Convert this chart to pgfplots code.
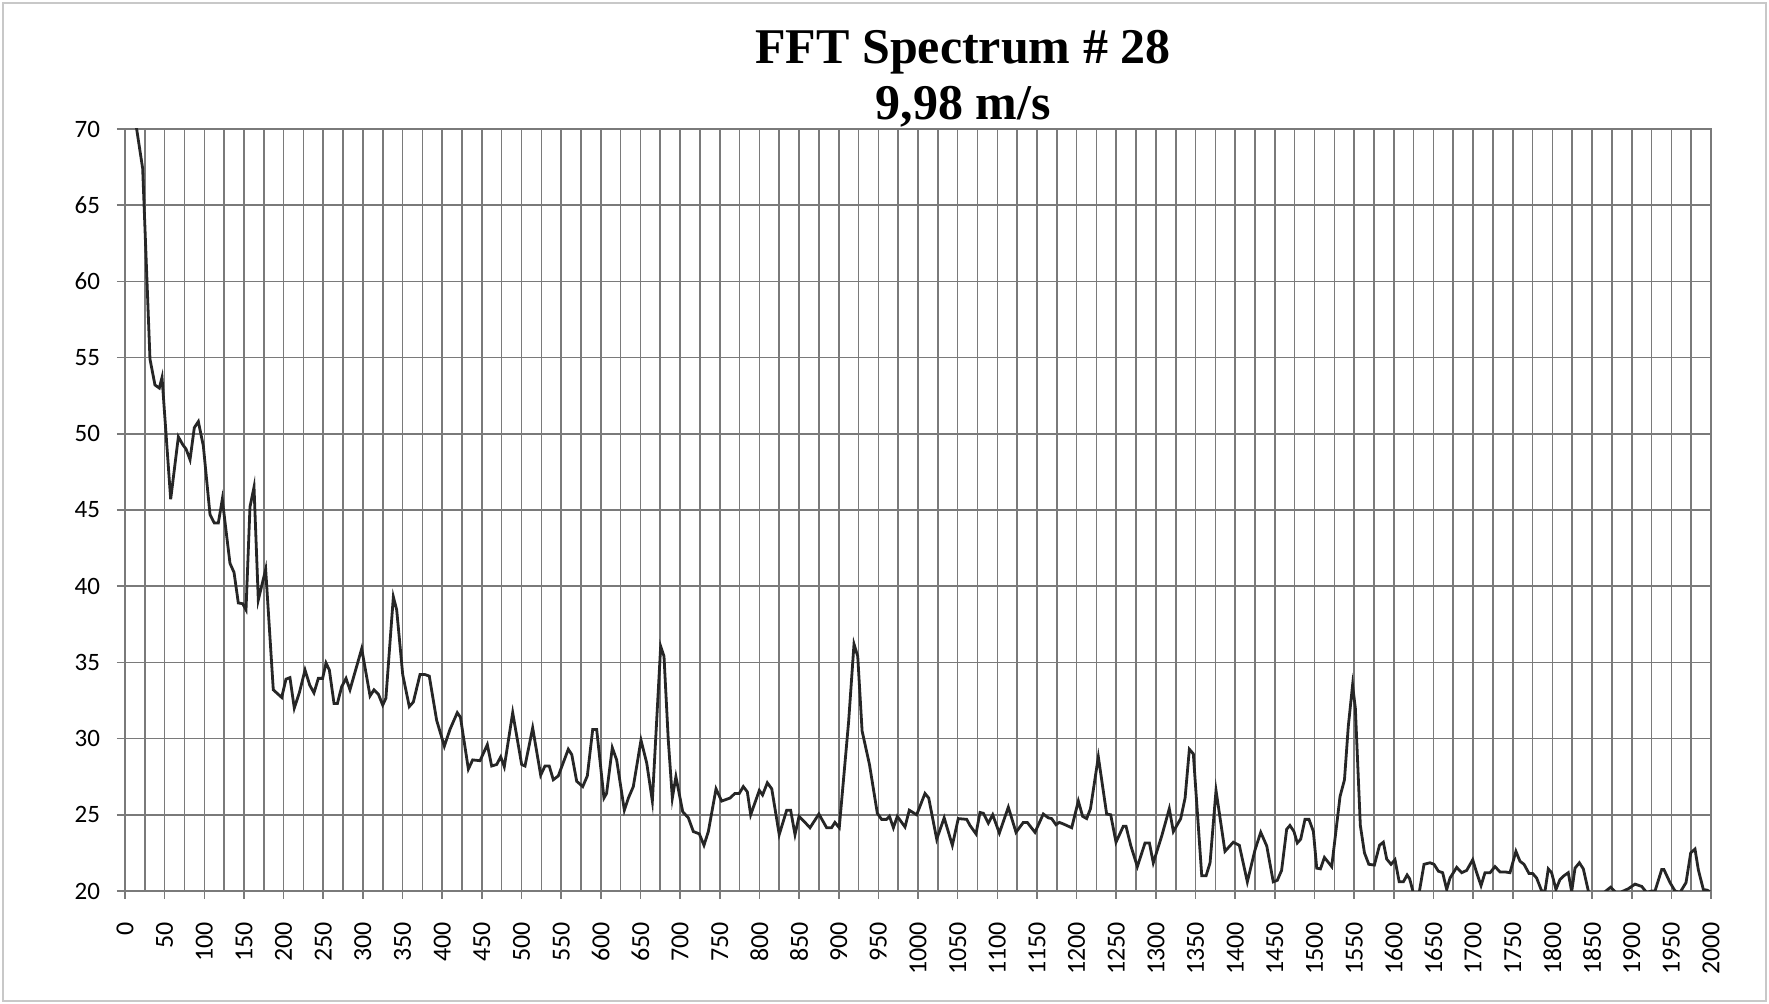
\documentclass[border=0pt]{standalone}
\usepackage{pgfplots}
\pgfplotsset{compat=1.18}
\usepackage{fontspec}
\setmainfont{Carlito}
\newfontfamily\titlefont{Liberation Serif}
\definecolor{gridgray}{HTML}{7A7A7A}
\definecolor{framegray}{HTML}{C8C8C8}
\begin{document}
\begin{tikzpicture}[x=0.5pt,y=0.5pt]
\useasboundingbox (0,0) rectangle (1769,1004);
\fill[white] (0,0) rectangle (1769,1004);
\draw[framegray, line width=1pt] (3,3) rectangle (1766,1001);
\node[anchor=base, font=\titlefont\bfseries\fontsize{25}{30}\selectfont] at (963,940) {FFT Spectrum \# 28};
\node[anchor=base, font=\titlefont\bfseries\fontsize{25}{30}\selectfont] at (963,884) {9,98 m/s};
\begin{axis}[
  at={(62.5pt,56.5pt)}, anchor=south west,
  scale only axis, width=793pt, height=381pt,
  xmin=0, xmax=2000, ymin=20, ymax=70,
  xtick distance=50, minor x tick num=1,
  ytick distance=5,
  grid=both,
  major grid style={draw=gridgray, line width=0.8pt},
  minor grid style={draw=gridgray, line width=0.8pt},
  axis line style={draw=gridgray, line width=0.8pt},
  tick pos=left, tick align=outside,
  major tick length=4pt, minor tick length=0pt,
  tick style={draw=gridgray, line width=0.8pt},
  /pgf/number format/assume math mode=true,
  /pgf/number format/1000 sep={},
  xticklabel style={rotate=90, anchor=east, xshift=-8pt, font=\fontsize{13}{15}\selectfont},
  yticklabel style={xshift=-5pt, font=\fontsize{12.5}{15}\selectfont},
  clip=true,
]
\addplot[black!85, line width=1.4pt] coordinates {
(10,71.6) (14.7,70) (22.3,67.4) (31.5,54.9) (37.8,53.2) (43.3,53.0) (46.7,53.7)
(57.6,45.7) (67.3,49.8) (72.7,49.3) (77,49.0) (82,48.3) (87.4,50.4) (92.5,50.8)
(98.8,49.2) (107.2,44.7) (112.6,44.15) (117.7,44.15) (122.7,45.7) (128.2,43.3)
(132.4,41.5) (137.5,40.9) (142.9,38.9) (148.4,38.85) (152.6,38.45) (157.6,45.2)
(162.7,46.5) (168.1,39.1) (177.4,41.1) (187,33.2) (197.6,32.7) (203,33.9) (208,34.0)
(213.5,32.0) (219.8,33.0) (227,34.5) (233,33.5) (238.3,33.0) (243.8,33.95)
(249.2,33.95) (253.5,34.96) (257.7,34.5) (263.6,32.3) (267.8,32.3) (273.2,33.4)
(278.7,33.95) (283.7,33.2) (298.5,35.9) (309,32.8) (314,33.2) (319.6,32.9)
(325,32.2) (329,32.65) (338.4,39.3) (342.6,38.45) (350.2,34.2) (358.5,32.1)
(363.6,32.4) (372,34.2) (378.3,34.2) (383.7,34.1) (393,31.2) (402.7,29.5)
(409.8,30.6) (419,31.7) (423,31.4) (433,28.0) (438.4,28.6) (447.7,28.55)
(456.9,29.6) (462.4,28.2) (468.7,28.3) (473.8,28.8) (478.3,28.15) (488.9,31.7)
(500.2,28.3) (504.4,28.2) (514.1,30.7) (524.2,27.6) (529.6,28.2) (535,28.2)
(540.1,27.3) (546.4,27.55) (559,29.3) (563.4,28.95) (569.6,27.2) (577.2,26.85)
(583,27.55) (589.8,30.6) (594.8,30.6) (604,26.1) (607.3,26.4) (614.5,29.4)
(620,28.6) (629.7,25.3) (634.8,26.1) (641,26.85) (650.7,29.9) (657.9,28.4)
(665,25.9) (675.5,36.05) (679.7,35.4) (685.1,29.9) (690.2,26.1) (694.7,27.5)
(703.3,25.2) (710.4,24.8) (716.7,23.9) (724.2,23.75) (730.1,23.0) (735.6,23.9)
(745.3,26.7) (752.4,25.9) (763,26.1) (769.1,26.4) (774.6,26.4) (779.7,26.85)
(784.8,26.5) (789,25.0) (799.9,26.6) (804,26.3) (810,27.1) (815.6,26.7)
(825,23.7) (834.4,25.3) (839.4,25.3) (844.9,23.7) (850,24.9) (857.5,24.5)
(863.8,24.15) (875,25.05) (884.8,24.15) (891,24.15) (895.2,24.5) (900.7,24.15)
(912.5,31.1) (919.3,36.2) (924,35.4) (929.5,30.5) (938.8,28.3) (948.7,25.1)
(954.1,24.7) (960.4,24.7) (964,24.9) (969,24.15) (973.9,24.9) (983.6,24.2)
(989,25.3) (998.3,25.0) (1008.8,26.4) (1013.5,26.1) (1023.6,23.4) (1033,24.8)
(1043.3,23.0) (1050.8,24.75) (1061.4,24.7) (1065.6,24.3) (1073.1,23.75)
(1078.2,25.15) (1082.4,25.1) (1088.7,24.45) (1094.2,25.0) (1102.6,23.8)
(1113.9,25.5) (1123.6,23.85) (1132.8,24.5) (1137.8,24.5) (1147.5,23.85)
(1158,25.05) (1164.3,24.8) (1168.5,24.75) (1174,24.35) (1178.2,24.5)
(1183.2,24.4) (1193.8,24.15) (1202.2,25.9) (1207.6,24.9) (1212.7,24.75)
(1217.5,25.4) (1227.4,28.8) (1237.9,25.05) (1243,25.0) (1249.7,23.2)
(1258.9,24.25) (1262.3,24.25) (1268.2,23.0) (1276.6,21.6) (1286.3,23.15)
(1291.8,23.15) (1296.7,21.85) (1307.3,23.6) (1316.9,25.4) (1322,23.9)
(1331.3,24.75) (1336.8,26.1) (1342.2,29.3) (1347.2,29.0) (1357.8,21.0)
(1363.3,21.0) (1368.3,21.85) (1375.8,26.6) (1387.1,22.6) (1397.6,23.2)
(1405.2,23.0) (1415.3,20.6) (1425,22.7) (1432.2,23.85) (1439.8,22.95)
(1448,20.6) (1453.1,20.7) (1458.5,21.35) (1464.9,24.05) (1469,24.3)
(1474.1,23.9) (1478.3,23.15) (1482.6,23.4) (1488,24.7) (1493,24.7)
(1498.6,23.9) (1502.8,21.5) (1507.5,21.45) (1512.5,22.2) (1521.7,21.6)
(1532.2,26.2) (1537.8,27.3) (1542.6,30.8) (1548,33.5) (1551.5,32.0)
(1557.8,24.3) (1563,22.5) (1568.5,21.75) (1575.5,21.7) (1582,23.0)
(1586.8,23.2) (1591,22.1) (1596.5,21.75) (1601.5,22.05) (1606.8,20.6)
(1612,20.6) (1616.8,21.05) (1620,20.8) (1624.5,19.9) (1628,19.5) (1632.2,19.95)
(1638.1,21.75) (1645.6,21.85) (1650.7,21.75) (1656.2,21.3) (1661.6,21.2)
(1666.7,20.1) (1670.9,20.85) (1679.3,21.55) (1685.6,21.2) (1691.9,21.35)
(1699.5,22.05) (1704.5,21.2) (1710,20.35) (1715,21.2) (1721.4,21.2)
(1727.6,21.6) (1733.9,21.25) (1740.2,21.25) (1746.5,21.2) (1754,22.6)
(1759.1,21.95) (1764.2,21.75) (1770.5,21.15) (1775.1,21.15) (1780.1,20.85)
(1786.5,20.0) (1790.7,20.0) (1794.8,21.45) (1799,21.2) (1804.5,20.1)
(1809.5,20.75) (1814.6,21.0) (1820,21.2) (1824.3,19.95) (1828.5,21.5)
(1834,21.85) (1839,21.45) (1845.3,20.0) (1855,19.0) (1866.3,19.95)
(1873.5,20.25) (1879,19.95) (1883,19.6) (1887.4,19.95) (1895.8,20.15)
(1904.2,20.45) (1912.6,20.3) (1918.9,19.9) (1925.2,20.0) (1929.4,20.0)
(1937.8,21.4) (1940.7,21.4) (1948.3,20.55) (1954.6,20.0) (1960.9,19.9)
(1968.5,20.55) (1974.4,22.5) (1979.8,22.75) (1984,21.4) (1990.3,20.1)
(1995.3,20.05) (1998.7,19.95)
};
\end{axis}
\end{tikzpicture}
\end{document}
